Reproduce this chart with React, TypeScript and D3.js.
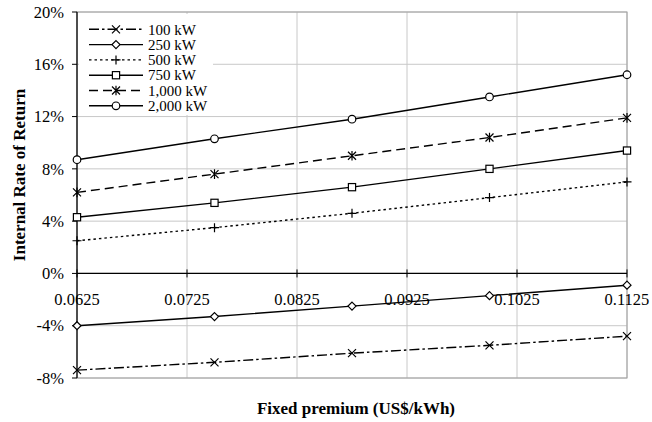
import React from "react";
import * as d3 from "d3";

// Fixed premium values (US$/kWh) at which IRR was computed
const premiums = [0.0625, 0.075, 0.0875, 0.1, 0.1125];

// IRR (%) per plant size
const irr100 = [-7.4, -6.8, -6.1, -5.5, -4.8];
const irr250 = [-4.0, -3.3, -2.5, -1.7, -0.9];
const irr500 = [2.5, 3.5, 4.6, 5.8, 7.0];
const irr750 = [4.3, 5.4, 6.6, 8.0, 9.4];
const irr1000 = [6.2, 7.6, 9.0, 10.4, 11.9];
const irr2000 = [8.7, 10.3, 11.8, 13.5, 15.2];

const seriesNames = ["100 kW", "250 kW", "500 kW", "750 kW", "1,000 kW", "2,000 kW"];
const seriesValues = [irr100, irr250, irr500, irr750, irr1000, irr2000];

const xTicks = [0.0625, 0.0725, 0.0825, 0.0925, 0.1025, 0.1125];
const yTicks = [-8, -4, 0, 4, 8, 12, 16, 20];

const xTitle = "Fixed premium (US$/kWh)";
const yTitle = "Internal Rate of Return";

type MarkerKind = "x" | "diamond" | "plus" | "square" | "asterisk" | "circle";

const styles: { dash: string; marker: MarkerKind }[] = [
  { dash: "10 3 2.5 3", marker: "x" },
  { dash: "", marker: "diamond" },
  { dash: "2.5 3", marker: "plus" },
  { dash: "", marker: "square" },
  { dash: "9 5", marker: "asterisk" },
  { dash: "", marker: "circle" },
];

const W = 652;
const H = 422;
const left = 77;
const right = 627;
const top = 12;
const bottom = 378;

const FONT = "'Liberation Serif', 'Times New Roman', serif";

function Marker({ kind, x, y }: { kind: MarkerKind; x: number; y: number }) {
  const s = 4;
  const common = { stroke: "#000", strokeWidth: 1.2 };
  switch (kind) {
    case "x":
      return (
        <path
          d={`M${x - s},${y - s}L${x + s},${y + s}M${x - s},${y + s}L${x + s},${y - s}`}
          {...common}
          fill="none"
        />
      );
    case "plus":
      return (
        <path d={`M${x - 4.5},${y}L${x + 4.5},${y}M${x},${y - 4.5}L${x},${y + 4.5}`} {...common} fill="none" />
      );
    case "asterisk":
      return (
        <path
          d={`M${x - s},${y - s}L${x + s},${y + s}M${x - s},${y + s}L${x + s},${y - s}M${x},${y - 4.8}L${x},${y + 4.8}`}
          {...common}
          fill="none"
        />
      );
    case "diamond":
      return (
        <path d={`M${x},${y - 4}L${x + 4},${y}L${x},${y + 4}L${x - 4},${y}Z`} {...common} fill="#fff" />
      );
    case "square":
      return <rect x={x - 3.6} y={y - 3.6} width={7.2} height={7.2} {...common} fill="#fff" />;
    case "circle":
      return <circle cx={x} cy={y} r={3.8} {...common} fill="#fff" />;
  }
}

export default function App() {
  const x = d3.scaleLinear().domain([0.0625, 0.1125]).range([left, right]);
  const y = d3.scaleLinear().domain([-8, 20]).range([bottom, top]);
  const line = d3
    .line<[number, number]>()
    .x((d) => x(d[0]))
    .y((d) => y(d[1]));

  const y0 = y(0);

  // legend box in the upper-left corner of the plot
  const legX = 79;
  const legY = 14;
  const rowH = 15.3;
  const firstRow = 29.3;

  return (
    <svg
      width={W}
      height={H}
      style={{ position: "absolute", left: 0, top: 0, background: "#fff" }}
      fontFamily={FONT}
    >
      <rect x={0} y={0} width={W} height={H} fill="#fff" />

      {/* gridlines */}
      {xTicks.map((t) => (
        <line key={"gx" + t} x1={x(t)} x2={x(t)} y1={top} y2={bottom} stroke="#c8c8c8" strokeWidth={1} />
      ))}
      {yTicks.map((t) => (
        <line key={"gy" + t} x1={left} x2={right} y1={y(t)} y2={y(t)} stroke="#c8c8c8" strokeWidth={1} />
      ))}

      {/* plot frame */}
      <rect x={left} y={top} width={right - left} height={bottom - top} fill="none" stroke="#a0a0a0" strokeWidth={1} />

      {/* y axis */}
      <line x1={left} x2={left} y1={top} y2={bottom} stroke="#000" strokeWidth={1.2} />
      {yTicks.map((t) => (
        <g key={"yt" + t}>
          <line x1={left - 5} x2={left} y1={y(t)} y2={y(t)} stroke="#000" strokeWidth={1} />
          <text x={64} y={y(t)} dy="0.35em" textAnchor="end" fontSize={16.5} fill="#000">
            {`${t}%`}
          </text>
        </g>
      ))}

      {/* x axis through zero */}
      <line x1={left} x2={right} y1={y0} y2={y0} stroke="#000" strokeWidth={1.2} />
      {xTicks.map((t) => (
        <g key={"xt" + t}>
          <line x1={x(t)} x2={x(t)} y1={y0 - 4} y2={y0 + 4} stroke="#000" strokeWidth={1} />
          <text x={x(t)} y={y0 + 32} textAnchor="middle" fontSize={16.5} fill="#000">
            {String(t)}
          </text>
        </g>
      ))}

      {/* legend background hides grid */}
      <rect x={legX} y={legY} width={134} height={101} fill="#fff" />

      {/* series */}
      {seriesValues.map((vals, i) => {
        const pts = premiums.map((p, j) => [p, vals[j]] as [number, number]);
        return (
          <g key={seriesNames[i]}>
            <path
              d={line(pts) || ""}
              fill="none"
              stroke="#000"
              strokeWidth={1.4}
              strokeDasharray={styles[i].dash || undefined}
            />
            {pts.map((d, j) => (
              <Marker key={j} kind={styles[i].marker} x={x(d[0])} y={y(d[1])} />
            ))}
          </g>
        );
      })}

      {/* legend */}
      {seriesNames.map((name, i) => {
        const cy = firstRow + i * rowH;
        return (
          <g key={"leg" + name}>
            <line
              x1={89}
              x2={143}
              y1={cy}
              y2={cy}
              stroke="#000"
              strokeWidth={1.4}
              strokeDasharray={styles[i].dash || undefined}
            />
            <Marker kind={styles[i].marker} x={116} y={cy} />
            <text x={148} y={cy} dy="0.35em" fontSize={15} fill="#000">
              {name}
            </text>
          </g>
        );
      })}

      {/* axis titles */}
      <text x={356} y={414} textAnchor="middle" fontSize={17} fontWeight="bold" fill="#000">
        {xTitle}
      </text>
      <text
        transform={`translate(25, 175) rotate(-90)`}
        textAnchor="middle"
        fontSize={17}
        fontWeight="bold"
        fill="#000"
      >
        {yTitle}
      </text>
    </svg>
  );
}
